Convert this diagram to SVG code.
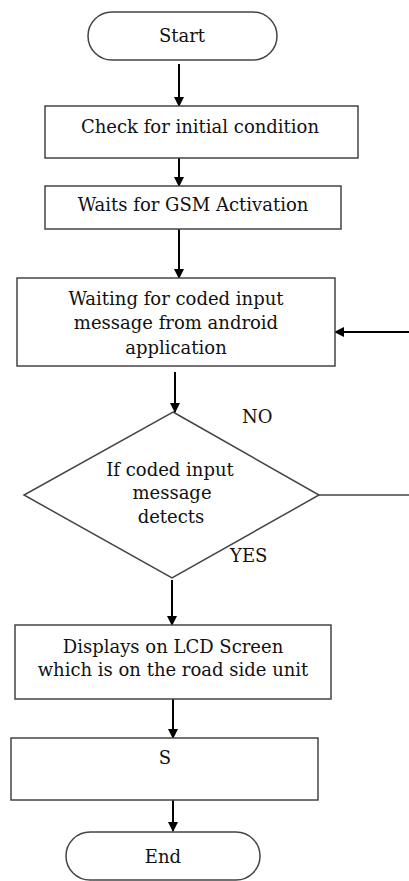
<svg xmlns="http://www.w3.org/2000/svg" width="409" height="881" viewBox="0 0 409 881">
<defs>
<marker id="ah" markerWidth="10" markerHeight="10" refX="9" refY="5" orient="auto" markerUnits="userSpaceOnUse">
<path d="M0,0 L10,5 L0,10 Z" fill="#000"/>
</marker>
<style>
.box{fill:#fff;stroke:#444;stroke-width:1.5}
.t{font-family:'DejaVu Serif',serif;font-size:18px;fill:#111;text-anchor:middle}
.l{font-family:'DejaVu Serif',serif;font-size:18px;fill:#111}
.c{stroke:#000;stroke-width:2;fill:none}
.cn{stroke:#444;stroke-width:1.5;fill:none}
</style>
</defs>
<rect width="409" height="881" fill="#fff"/>
<g id="connectors">
<line class="c" x1="179" y1="64" x2="179" y2="106" marker-end="url(#ah)"/>
<line class="c" x1="179" y1="158" x2="179" y2="186" marker-end="url(#ah)"/>
<line class="c" x1="179" y1="225" x2="179" y2="278" marker-end="url(#ah)"/>
<line class="c" x1="175" y1="372" x2="175" y2="412" marker-end="url(#ah)"/>
<line class="c" x1="172" y1="580" x2="172" y2="625" marker-end="url(#ah)"/>
<line class="c" x1="173" y1="699" x2="173" y2="738" marker-end="url(#ah)"/>
<line class="c" x1="173" y1="800" x2="173" y2="831" marker-end="url(#ah)"/>
<line class="cn" x1="319" y1="495" x2="409" y2="495"/>
<line class="c" x1="409" y1="332" x2="335" y2="332" marker-end="url(#ah)"/>
<text class="l" x="242" y="423">NO</text>
<text class="l" x="230" y="562">YES</text>
</g>
<g id="start">
<rect class="box" x="88" y="12" width="189" height="48" rx="24" ry="24"/>
<text class="t" x="182" y="42">Start</text>
</g>
<g id="check">
<rect class="box" x="45" y="106" width="313" height="52"/>
<text class="t" x="200" y="133">Check for initial condition</text>
</g>
<g id="gsm">
<rect class="box" x="45" y="186" width="296" height="43"/>
<text class="t" x="193" y="211">Waits for GSM Activation</text>
</g>
<g id="waiting">
<rect class="box" x="17" y="278" width="318" height="88"/>
<text class="t" x="176" y="305">Waiting for coded input</text>
<text class="t" x="176" y="329">message from android</text>
<text class="t" x="176" y="354">application</text>
</g>
<g id="decision">
<polygon class="box" points="173,412 319,495 172,578 24,495"/>
<text class="t" x="170" y="476">If coded input</text>
<text class="t" x="172" y="499">message</text>
<text class="t" x="171" y="523">detects</text>
</g>
<g id="display">
<rect class="box" x="15" y="625" width="316" height="74"/>
<text class="t" x="173" y="653">Displays on LCD Screen</text>
<text class="t" x="173" y="676">which is on the road side unit</text>
</g>
<g id="s">
<rect class="box" x="11" y="738" width="307" height="62"/>
<text class="t" x="165" y="764">S</text>
</g>
<g id="end">
<rect class="box" x="66" y="832" width="194" height="48" rx="24" ry="24"/>
<text class="t" x="163" y="863">End</text>
</g>
</svg>
